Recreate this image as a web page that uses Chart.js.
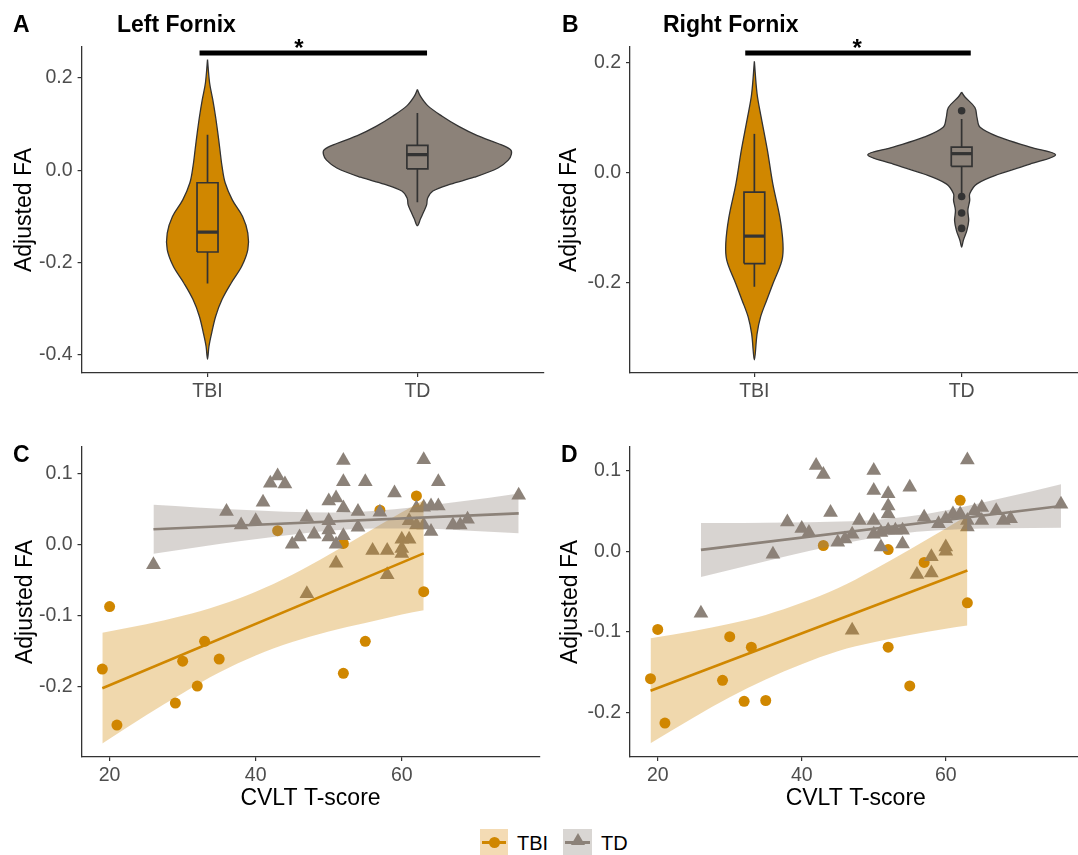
<!DOCTYPE html>
<html><head><meta charset="utf-8">
<script src="https://cdn.jsdelivr.net/npm/chart.js@4.4.1/dist/chart.umd.min.js"></script>
<style>
body{margin:0;background:#fff;width:1078px;height:855px;position:relative;overflow:hidden;font-family:"Liberation Sans",Arial,Helvetica,sans-serif;}
canvas{position:absolute;}
.lab{position:absolute;font-weight:bold;font-size:23px;line-height:23px;color:#000;white-space:nowrap;}
.leg{position:absolute;font-size:20px;line-height:20px;color:#000;}
.key{position:absolute;width:28px;height:26px;}
.kline{position:absolute;left:2px;right:2px;top:11.5px;height:3px;}
</style></head>
<body>
<canvas id="cA" width="548" height="420" style="left:0;top:0"></canvas>
<canvas id="cB" width="550" height="420" style="left:540px;top:0"></canvas>
<canvas id="cC" width="548" height="395" style="left:0;top:420px"></canvas>
<canvas id="cD" width="550" height="395" style="left:540px;top:420px"></canvas>

<div class="lab" style="left:13px;top:13px">A</div>
<div class="lab" style="left:117px;top:13px">Left Fornix</div>
<div class="lab" style="left:562px;top:13px">B</div>
<div class="lab" style="left:663px;top:13px">Right Fornix</div>
<div class="lab" style="left:13px;top:443px">C</div>
<div class="lab" style="left:561px;top:443px">D</div>

<div class="key" style="left:480px;top:829px;background:#F4DBB4">
  <div class="kline" style="background:#D08700"></div>
  <div style="position:absolute;left:8.5px;top:7.5px;width:11px;height:11px;border-radius:50%;background:#D08700"></div>
</div>
<div class="leg" style="left:517px;top:833px">TBI</div>
<div class="key" style="left:563px;top:829px;width:29px;background:#D9D6D3">
  <div class="kline" style="background:#8C8279"></div>
  <div style="position:absolute;left:7.5px;top:3.5px;width:0;height:0;border-left:7px solid transparent;border-right:7px solid transparent;border-bottom:12px solid #8C8279"></div>
</div>
<div class="leg" style="left:601px;top:833px">TD</div>

<script>
// ---------- data ----------
const groups = ['TBI', 'TD'];
const colTBI = '#D08700';
const colTD = '#8C8279';

// Violin profiles: Adjusted FA value and half-width (category units)
const vA_TBI_y = [0.240,0.189,0.153,0.117,0.081,0.045,0.009,-0.027,-0.064,-0.100,-0.136,-0.172,-0.208,-0.244,-0.280,-0.316,-0.352,-0.381,-0.409];
const vA_TBI_w = [0,0.010,0.025,0.038,0.049,0.059,0.069,0.084,0.118,0.167,0.192,0.192,0.163,0.113,0.069,0.039,0.020,0.007,0];
const vA_TD_y  = [0.175,0.160,0.140,0.117,0.095,0.075,0.058,0.045,0.035,0.022,0.005,-0.015,-0.030,-0.045,-0.060,-0.075,-0.090,-0.105,-0.120];
const vA_TD_w  = [0,0.015,0.049,0.118,0.197,0.286,0.384,0.443,0.448,0.433,0.384,0.271,0.158,0.074,0.049,0.044,0.030,0.015,0];
const vB_TBI_y = [0.203,0.144,0.101,0.041,-0.020,-0.081,-0.129,-0.159,-0.202,-0.232,-0.262,-0.293,-0.340];
const vB_TBI_w = [0,0.013,0.033,0.063,0.089,0.123,0.138,0.133,0.089,0.059,0.030,0.013,0];
const vB_TD_y  = [0.147,0.138,0.119,0.101,0.083,0.065,0.047,0.033,0.016,-0.002,-0.020,-0.038,-0.050,-0.068,-0.087,-0.105,-0.123,-0.135];
const vB_TD_w  = [0,0.016,0.064,0.074,0.089,0.182,0.330,0.453,0.330,0.182,0.074,0.039,0.039,0.030,0.034,0.025,0.008,0];

// Box stats: [lower whisker, Q1, median, Q3, upper whisker]
const boxA_TBI = [-0.245,-0.177,-0.134,-0.027,0.077];
const boxA_TD  = [-0.069,0.003,0.034,0.054,0.124];
const boxB_TBI = [-0.207,-0.165,-0.115,-0.035,0.071];
const boxB_TD  = [-0.040,0.012,0.035,0.047,0.098];
const outB_TD  = [0.113,-0.043,-0.073,-0.101];

// Significance bars: [from, to, y, star x]
const sigA = [0.962, 2.046, 0.254, 1.436];
const sigB = [0.956, 2.044, 0.218, 1.496];

const yTicksA = [-0.4,-0.2,0.0,0.2];
const yTicksB = [-0.2,0.0,0.2];
const yTicksCD = [-0.2,-0.1,0.0,0.1];
const xTicksCD = [20,40,60];

// Scatter: CVLT T-score vs Adjusted FA
const C_TBI_x = [19,20,21,29,30,32,33,35,43,52,52,55,57,62,63];
const C_TBI_y = [-0.175,-0.087,-0.254,-0.223,-0.164,-0.199,-0.136,-0.161,0.020,0.002,-0.181,-0.136,0.049,0.069,-0.066];
const D_TBI_x = [19,20,21,29,30,32,33,35,43,52,52,55,57,62,63];
const D_TBI_y = [-0.158,-0.097,-0.213,-0.160,-0.106,-0.186,-0.119,-0.185,0.007,0.002,-0.119,-0.167,-0.014,0.063,-0.064];

const C_TD_x = [26,36,38,40,41,42,43,44,45,46,47,47,48,50,50,50,50,51,51,51,52,52,52,52,54,54,55,56,57,58,58,59,60,60,60,61,61,62,62,63,63,63,64,64,65,65,67,68,69,76];
const C_TD_y = [-0.028,0.047,0.028,0.034,0.060,0.087,0.097,0.086,0.001,0.011,-0.069,0.039,0.015,0.034,0.021,0.062,0.011,0.066,-0.026,0.001,0.119,0.089,0.052,0.013,0.047,0.025,0.089,-0.008,0.046,-0.008,-0.042,0.073,0.008,-0.005,-0.012,0.008,0.034,0.028,0.052,0.120,0.053,0.028,0.055,0.019,0.089,0.055,0.028,0.028,0.036,0.070];
const D_TD_x = [26,36,38,40,41,42,43,44,45,46,47,47,48,50,50,50,50,51,51,52,52,52,52,53,54,54,55,56,57,58,58,59,60,60,60,61,62,63,63,63,64,65,65,67,68,69,76];
const D_TD_y = [-0.077,-0.004,0.036,0.028,0.023,0.106,0.095,0.048,0.011,0.015,-0.098,0.021,0.038,0.100,0.075,0.038,0.021,0.023,0.005,0.071,0.056,0.046,0.026,0.026,0.009,0.026,0.079,-0.029,0.042,-0.007,-0.027,0.034,0.005,0.000,0.040,0.046,0.046,0.113,0.038,0.030,0.050,0.054,0.038,0.050,0.038,0.040,0.058];

// Fitted lines and 95% bands
const C_TBI_fitX = [19,63], C_TBI_fitY = [-0.202,-0.012];
const C_TBI_bX = [19,25,30,35,40,45,50,55,60,63];
const C_TBI_lo = [-0.280,-0.240,-0.209,-0.180,-0.156,-0.137,-0.122,-0.110,-0.098,-0.092];
const C_TBI_hi = [-0.124,-0.112,-0.100,-0.085,-0.066,-0.042,-0.014,0.016,0.046,0.063];
const C_TD_fitX = [26,76], C_TD_fitY = [0.022,0.0445];
const C_TD_bX = [26,32,38,44,50,56,62,68,76];
const C_TD_lo = [-0.0125,-0.0034,0.0054,0.0134,0.020,0.0232,0.0231,0.0208,0.0164];
const C_TD_hi = [0.0565,0.0528,0.0494,0.0468,0.0456,0.0478,0.0533,0.061,0.0726];
const D_TBI_fitX = [19,63], D_TBI_fitY = [-0.173,-0.024];
const D_TBI_bX = [19,25,30,35,40,45,50,55,60,63];
const D_TBI_lo = [-0.238,-0.206,-0.181,-0.159,-0.140,-0.124,-0.113,-0.104,-0.096,-0.092];
const D_TBI_hi = [-0.108,-0.099,-0.090,-0.079,-0.064,-0.046,-0.023,0.002,0.028,0.044];
const D_TD_fitX = [26,76], D_TD_fitY = [0.0016,0.056];
const D_TD_bX = [26,32,38,44,50,56,62,68,76];
const D_TD_lo = [-0.032,-0.019,-0.006,0.006,0.0167,0.0239,0.0272,0.0284,0.029];
const D_TD_hi = [0.035,0.035,0.0355,0.0364,0.0387,0.0445,0.0542,0.066,0.083];

// ---------- rendering ----------
const FONT = '"Liberation Sans", Arial, Helvetica, sans-serif';
Chart.defaults.font.family = FONT;
Chart.defaults.animation = false;
Chart.defaults.plugins.legend.display = false;
Chart.defaults.plugins.tooltip.enabled = false;

const zip = (xs, ys) => xs.map((x, i) => ({x, y: ys[i]}));
function violinPts(c, ys, ws) {
  const p = [];
  for (let i = 0; i < ys.length; i++) p.push({x: c + ws[i], y: ys[i]});
  for (let i = ys.length - 2; i >= 0; i--) p.push({x: c - ws[i], y: ys[i]});
  return p;
}
function rgba(hex, a) {
  const n = parseInt(hex.slice(1), 16);
  return `rgba(${n >> 16},${(n >> 8) & 255},${n & 255},${a})`;
}

function yScale(min, max, ticks, width, titlePad) {
  return {
    type: 'linear', min, max,
    afterBuildTicks: s => { s.ticks = ticks.map(v => ({value: v})); },
    afterFit: s => { s.width = width; },
    border: {display: true, color: '#333', width: 1.3},
    grid: {drawOnChartArea: false, drawTicks: true, tickLength: 4, color: '#333', lineWidth: 1.2},
    ticks: {color: '#4D4D4D', font: {size: 19.5}, padding: 5, callback: v => v.toFixed(1)},
    title: {display: true, text: 'Adjusted FA', color: '#000', font: {size: 23}, padding: {top: titlePad, bottom: 0}}
  };
}
function xScale(min, max, ticks, height, labelFn, title) {
  const s = {
    type: 'linear', min, max,
    afterBuildTicks: sc => { sc.ticks = ticks.map(v => ({value: v})); },
    afterFit: sc => { sc.height = height; },
    border: {display: true, color: '#333', width: 1.3},
    grid: {drawOnChartArea: false, drawTicks: true, tickLength: 4, color: '#333', lineWidth: 1.2},
    ticks: {color: '#4D4D4D', font: {size: 19.5}, padding: 2.5, maxRotation: 0, callback: labelFn}
  };
  if (title) s.title = {display: true, text: title, color: '#000', font: {size: 23}, padding: {top: 0, bottom: 3}};
  return s;
}

const starPlugin = {
  id: 'sigStar',
  afterDatasetsDraw(chart, args, opts) {
    if (opts.x == null) return;
    const {ctx, scales: {x, y}} = chart;
    ctx.save();
    ctx.font = 'bold 24px ' + FONT;
    ctx.fillStyle = '#000';
    ctx.textAlign = 'center';
    ctx.textBaseline = 'alphabetic';
    ctx.fillText('*', x.getPixelForValue(opts.x), y.getPixelForValue(opts.y) + 3);
    ctx.restore();
  }
};

function violinChart(id, violins, boxes, outliers, sig, yMin, yMax, yTicks, yWidth, titlePad, padRight) {
  const ds = [];
  violins.forEach((v, i) => {
    ds.push({data: violinPts(i + 1, v[0], v[1]), showLine: true, fill: 'shape', backgroundColor: v[2],
      borderColor: '#333', borderWidth: 1.3, pointRadius: 0, tension: 0.35, order: 10});
  });
  const hw = 0.05;
  boxes.forEach((b, i) => {
    const c = i + 1;
    ds.push({data: [{x: c-hw, y: b[1]}, {x: c+hw, y: b[1]}, {x: c+hw, y: b[3]}, {x: c-hw, y: b[3]}, {x: c-hw, y: b[1]}],
      showLine: true, borderColor: '#333', borderWidth: 1.7, pointRadius: 0, fill: false, order: 5});
    ds.push({data: [{x: c, y: b[3]}, {x: c, y: b[4]}], showLine: true, borderColor: '#333', borderWidth: 1.7, pointRadius: 0, order: 5});
    ds.push({data: [{x: c, y: b[1]}, {x: c, y: b[0]}], showLine: true, borderColor: '#333', borderWidth: 1.7, pointRadius: 0, order: 5});
    ds.push({data: [{x: c-hw, y: b[2]}, {x: c+hw, y: b[2]}], showLine: true, borderColor: '#333', borderWidth: 3.2, pointRadius: 0, order: 4});
  });
  outliers.forEach(o => {
    ds.push({data: o[1].map(v => ({x: o[0], y: v})), pointRadius: 3.8, pointBackgroundColor: '#333', pointBorderWidth: 0, order: 3});
  });
  ds.push({data: [{x: sig[0], y: sig[2]}, {x: sig[1], y: sig[2]}], showLine: true, borderColor: '#000', borderWidth: 5,
    pointRadius: 0, clip: false, order: 1});
  return new Chart(document.getElementById(id), {
    type: 'scatter',
    data: {datasets: ds},
    plugins: [starPlugin],
    options: {
      responsive: false, devicePixelRatio: 1,
      layout: {padding: {top: 47, right: padRight, left: 0, bottom: 0}},
      plugins: {sigStar: {x: sig[3], y: sig[2]}},
      scales: {
        x: xScale(0.4, 2.6, [1, 2], 47, v => groups[Math.round(v) - 1], null),
        y: yScale(yMin, yMax, yTicks, yWidth, titlePad)
      }
    }
  });
}

violinChart('cA',
  [[vA_TBI_y, vA_TBI_w, colTBI], [vA_TD_y, vA_TD_w, colTD]],
  [boxA_TBI, boxA_TD], [], sigA, -0.439, 0.267, yTicksA, 81.6, 11.2, 4.7);
violinChart('cB',
  [[vB_TBI_y, vB_TBI_w, colTBI], [vB_TD_y, vB_TD_w, colTD]],
  [boxB_TBI, boxB_TD], [[2, outB_TD]], sigB, -0.364, 0.229, yTicksB, 90, 16.2, 0);

function scatterChart(id, p, yMin, yMax, yWidth, titlePad, padRight) {
  const ds = [
    {data: zip(p.tbiX, p.tbiY), pointStyle: 'circle', pointRadius: 5.5, pointBackgroundColor: colTBI, pointBorderWidth: 0, order: 10},
    {data: zip(p.tdX, p.tdY), pointStyle: 'triangle', pointRadius: 8.5, pointBackgroundColor: colTD, pointBorderWidth: 0, order: 9},
    {data: zip(p.tbiBX, p.tbiLo), showLine: true, borderColor: 'transparent', borderWidth: 0, pointRadius: 0,
      cubicInterpolationMode: 'monotone', order: 8},
    {data: zip(p.tbiBX, p.tbiHi), showLine: true, borderColor: 'transparent', borderWidth: 0, pointRadius: 0,
      cubicInterpolationMode: 'monotone', fill: '-1', backgroundColor: rgba(colTBI, 0.32), order: 8},
    {data: zip(p.tbiFX, p.tbiFY), showLine: true, borderColor: colTBI, borderWidth: 2.6, pointRadius: 0, order: 7},
    {data: zip(p.tdBX, p.tdLo), showLine: true, borderColor: 'transparent', borderWidth: 0, pointRadius: 0,
      cubicInterpolationMode: 'monotone', order: 6},
    {data: zip(p.tdBX, p.tdHi), showLine: true, borderColor: 'transparent', borderWidth: 0, pointRadius: 0,
      cubicInterpolationMode: 'monotone', fill: '-1', backgroundColor: rgba(colTD, 0.34), order: 6},
    {data: zip(p.tdFX, p.tdFY), showLine: true, borderColor: colTD, borderWidth: 2.6, pointRadius: 0, order: 5}
  ];
  return new Chart(document.getElementById(id), {
    type: 'scatter',
    data: {datasets: ds},
    options: {
      responsive: false, devicePixelRatio: 1,
      layout: {padding: {top: 27, right: padRight, left: 0, bottom: 0}},
      scales: {
        x: xScale(16.15, 78.85, xTicksCD, 58, v => String(v), 'CVLT T-score'),
        y: yScale(yMin, yMax, yTicksCD, yWidth, titlePad)
      }
    }
  });
}

scatterChart('cC', {
  tbiX: C_TBI_x, tbiY: C_TBI_y, tdX: C_TD_x, tdY: C_TD_y,
  tbiBX: C_TBI_bX, tbiLo: C_TBI_lo, tbiHi: C_TBI_hi, tbiFX: C_TBI_fitX, tbiFY: C_TBI_fitY,
  tdBX: C_TD_bX, tdLo: C_TD_lo, tdHi: C_TD_hi, tdFX: C_TD_fitX, tdFY: C_TD_fitY
}, -0.299, 0.138, 81.5, 12, 5.5);
scatterChart('cD', {
  tbiX: D_TBI_x, tbiY: D_TBI_y, tdX: D_TD_x, tdY: D_TD_y,
  tbiBX: D_TBI_bX, tbiLo: D_TBI_lo, tbiHi: D_TBI_hi, tbiFX: D_TBI_fitX, tbiFY: D_TBI_fitY,
  tdBX: D_TD_bX, tdLo: D_TD_lo, tdHi: D_TD_hi, tdFX: D_TD_fitX, tdFY: D_TD_fitY
}, -0.255, 0.129, 90, 17, 0.6);
</script>
</body></html>
